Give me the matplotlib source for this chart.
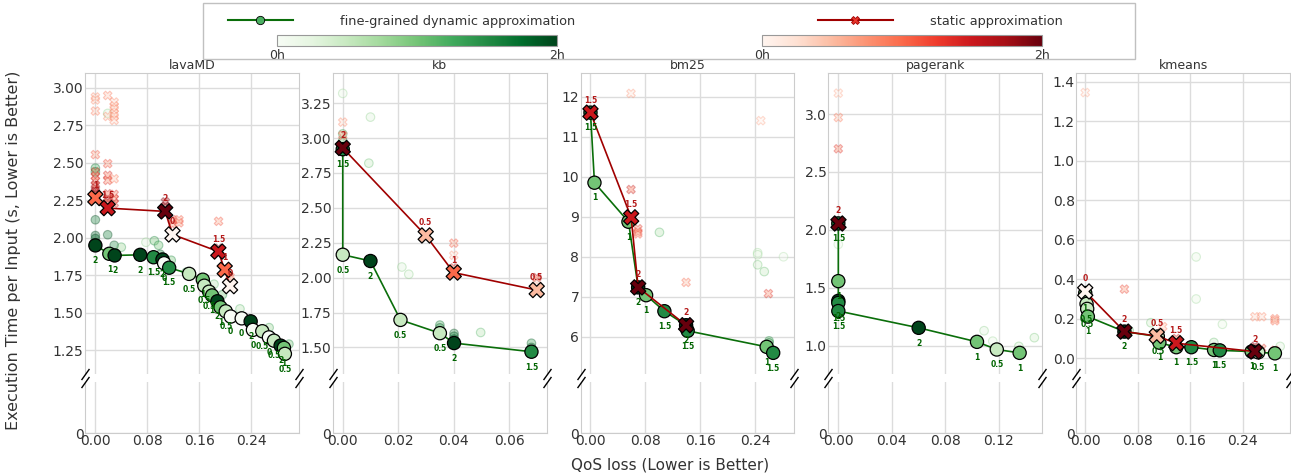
import matplotlib
matplotlib.use("Agg")
import matplotlib.pyplot as plt
import matplotlib.colors as mcolors
import matplotlib.cm as cm
from matplotlib.gridspec import GridSpec
from matplotlib.lines import Line2D
from matplotlib.patches import Rectangle
import numpy as np

plt.rcParams['font.family'] = ['DejaVu Sans']
plt.rcParams['text.color'] = '#333333'
plt.rcParams['xtick.color'] = '#333333'
plt.rcParams['ytick.color'] = '#333333'

benchmarks = ["lavaMD", "kb", "bm25", "pagerank", "kmeans"]

# (qos loss, time per input, hours of tuning)
lavamd_dyn = [(0.0, 1.949, 2), (0.0215, 1.893, 1), (0.0297, 1.882, 2), (0.0692, 1.886, 2),
              (0.0897, 1.870, 1.5), (0.1035, 1.855, 2), (0.106, 1.83, 0), (0.1138, 1.80, 1.5),
              (0.1446, 1.759, 0.5), (0.1657, 1.72, 1), (0.168, 1.68, 0.5), (0.1754, 1.64, 0.5),
              (0.180, 1.615, 1), (0.1882, 1.576, 2), (0.193, 1.536, 1), (0.2011, 1.509, 0.5),
              (0.2088, 1.474, 0), (0.2257, 1.462, 0), (0.2395, 1.442, 2), (0.243, 1.385, 0),
              (0.2574, 1.376, 0.5), (0.2677, 1.335, 0), (0.2754, 1.313, 0.5), (0.2857, 1.28, 2),
              (0.2908, 1.265, 1), (0.2923, 1.225, 0.5)]
lavamd_static = [(0.0, 2.265, 1), (0.019, 2.198, 1.5), (0.1077, 2.176, 2), (0.119, 2.022, 0),
                 (0.1897, 1.908, 1.5), (0.1995, 1.786, 1), (0.2077, 1.677, 0)]
lavamd_dyn_all = [(0, 2.465, 1.2), (0, 2.44, 1.2), (0, 2.12, 1.6), (0, 2.015, 1.8), (0, 1.995, 1.8),
                  (0.019, 2.83, 0.3), (0.019, 2.02, 1.6), (0.029, 1.95, 1.5), (0.04, 1.937, 0.8),
                  (0.078, 1.97, 0.3), (0.091, 1.98, 1.0), (0.0975, 1.95, 1.0), (0.1, 1.89, 1.5),
                  (0.117, 1.85, 1.0), (0.14, 1.77, 0.8), (0.183, 1.69, 0.6), (0.196, 1.62, 1.0),
                  (0.223, 1.525, 0.6), (0.268, 1.40, 0.8), (0.2985, 1.29, 1.0), (0.29, 1.24, 1.0)]
lavamd_static_all = [(0, 2.94, 0.3), (0, 2.92, 0.3), (0, 2.846, 0.4), (0, 2.555, 0.6), (0, 2.44, 0.8),
                     (0, 2.41, 0.8), (0, 2.383, 0.9), (0, 2.35, 1.2), (0, 2.33, 1.2), (0, 2.31, 1.5),
                     (0, 2.29, 1.5), (0.019, 2.95, 0.4), (0.019, 2.81, 0.3), (0.019, 2.495, 0.7),
                     (0.019, 2.417, 0.9), (0.019, 2.383, 0.8), (0.019, 2.294, 1.0), (0.019, 2.26, 1.2),
                     (0.019, 2.24, 1.3), (0.029, 2.906, 0.3), (0.029, 2.88, 0.3), (0.029, 2.86, 0.3),
                     (0.029, 2.83, 0.3), (0.029, 2.81, 0.3), (0.029, 2.784, 0.3), (0.029, 2.394, 0.4),
                     (0.029, 2.29, 0.8), (0.029, 2.26, 0.8), (0.029, 2.23, 0.9), (0.108, 2.24, 1.5),
                     (0.108, 2.21, 1.8), (0.119, 2.12, 0.8), (0.119, 2.09, 0.8), (0.129, 2.12, 0.6),
                     (0.129, 2.10, 0.6), (0.19, 2.11, 0.6), (0.19, 1.93, 1.6), (0.2077, 1.74, 0.6),
                     (0.2077, 1.72, 0.3)]

kb_dyn = [(0.0, 2.92, 1.5), (0.0, 2.164, 0.5), (0.00998, 2.119, 2), (0.0208, 1.697, 0.5),
          (0.035, 1.602, 0.5), (0.0401, 1.531, 2), (0.068, 1.469, 1.5)]
kb_static = [(0.0, 2.929, 2), (0.0299, 2.302, 0.5), (0.04, 2.036, 1), (0.0699, 1.911, 0.5)]
kb_dyn_all = [(0, 3.32, 0.2), (0, 3.03, 0.8), (0, 2.98, 1.0), (0.00998, 3.15, 0.3), (0.0094, 2.82, 0.5),
              (0.0213, 2.076, 0.3), (0.0238, 2.024, 0.3), (0.035, 1.66, 1.2), (0.035, 1.64, 1.4),
              (0.0497, 1.607, 0.6), (0.0401, 1.60, 1.4), (0.0401, 1.58, 1.6), (0.0401, 1.56, 1.8),
              (0.068, 1.53, 1.3), (0.068, 1.50, 1.6)]
kb_static_all = [(0, 3.114, 0.3), (0, 3.02, 0.6), (0.04, 2.247, 0.6), (0.04, 2.16, 0.2),
                 (0.04, 2.07, 1.0), (0.0699, 2.0, 1.2), (0.0699, 1.98, 0.2)]

bm25_dyn = [(0.0, 11.6, 1.5), (0.0058, 9.85, 1), (0.0553, 8.875, 1), (0.0694, 7.235, 2),
            (0.081, 7.04, 1), (0.1076, 6.64, 1.5), (0.1392, 6.29, 2), (0.1415, 6.15, 1.5),
            (0.2565, 5.75, 1), (0.266, 5.6, 1.5)]
bm25_static = [(0.0, 11.6, 1.5), (0.0592, 8.985, 1.5), (0.0694, 7.235, 2), (0.1392, 6.29, 2)]
bm25_dyn_all = [(0.1004, 8.61, 0.6), (0.2434, 8.10, 0.2), (0.2434, 8.05, 0.2), (0.2434, 7.8, 0.4),
                (0.253, 7.63, 0.5), (0.281, 8.0, 0.1), (0.26, 5.9, 1.0), (0.26, 5.85, 1.2)]
bm25_static_all = [(0.059, 12.08, 0.2), (0.059, 9.68, 1.0), (0.069, 8.70, 0.8), (0.069, 8.62, 0.7),
                   (0.069, 8.57, 0.6), (0.1392, 7.36, 0.5), (0.248, 11.4, 0.1), (0.259, 7.08, 0.8)]

pagerank_dyn = [(0.0, 2.056, 1.5), (0.0, 1.558, 1), (0.0, 1.388, 2), (0.0, 1.37, 1.5),
                (0.0, 1.30, 1.5), (0.0601, 1.155, 2), (0.1037, 1.034, 1), (0.1185, 0.968, 0.5),
                (0.1356, 0.939, 1)]
pagerank_static = [(0.0, 2.056, 2)]
pagerank_dyn_all = [(0, 1.875, 0.1), (0.109, 1.13, 0.3), (0.1155, 1.04, 0.2), (0.135, 0.995, 0.4),
                    (0.1466, 1.07, 0.4)]
pagerank_static_all = [(0, 3.18, 0.1), (0, 2.97, 0.4), (0, 2.70, 0.8)]

kmeans_dyn = [(0.0, 0.33, 1), (0.002, 0.275, 0.5), (0.003, 0.25, 0.5), (0.004, 0.211, 1),
              (0.0597, 0.135, 2), (0.1106, 0.11, 0.5), (0.113, 0.079, 1), (0.1387, 0.056, 1),
              (0.1617, 0.056, 1.5), (0.1963, 0.042, 1), (0.205, 0.04, 1.5), (0.2535, 0.034, 1),
              (0.2636, 0.03, 0.5), (0.289, 0.025, 1)]
kmeans_static = [(0.0, 0.338, 0), (0.0597, 0.135, 2), (0.109, 0.113, 0.5), (0.1387, 0.076, 1.5),
                 (0.2585, 0.034, 2)]
kmeans_dyn_all = [(0.169, 0.513, 0.2), (0.169, 0.30, 0.2), (0.209, 0.172, 0.2), (0.1, 0.18, 0.4),
                  (0.196, 0.08, 0.5), (0.067, 0.14, 0.6), (0.297, 0.06, 0.3)]
kmeans_static_all = [(0, 1.345, 0.1), (0.0597, 0.35, 0.7), (0.118, 0.16, 0.4), (0.1387, 0.10, 1.0),
                     (0.2585, 0.21, 0.3), (0.269, 0.21, 0.3), (0.289, 0.2, 0.5), (0.289, 0.19, 0.5),
                     (0.2585, 0.06, 1.5), (0.2585, 0.05, 1.2), (0.269, 0.05, 0.8), (0.289, 0.04, 0.8)]

dyn_sets = [lavamd_dyn, kb_dyn, bm25_dyn, pagerank_dyn, kmeans_dyn]
static_sets = [lavamd_static, kb_static, bm25_static, pagerank_static, kmeans_static]
dyn_all_sets = [lavamd_dyn_all, kb_dyn_all, bm25_dyn_all, pagerank_dyn_all, kmeans_dyn_all]
static_all_sets = [lavamd_static_all, kb_static_all, bm25_static_all, pagerank_static_all, kmeans_static_all]

xlims = [(-0.016, 0.314), (-0.0036, 0.0735), (-0.0145, 0.297), (-0.0075, 0.1525), (-0.014, 0.312)]
xticks = [[0, 0.08, 0.16, 0.24], [0, 0.02, 0.04, 0.06], [0, 0.08, 0.16, 0.24],
          [0, 0.04, 0.08, 0.12], [0, 0.08, 0.16, 0.24]]
ylims = [(1.09, 3.10), (1.309, 3.466), (5.07, 12.59), (0.756, 3.354), (-0.08, 1.444)]
yticks = [np.arange(1.25, 3.01, 0.25), np.arange(1.5, 3.26, 0.25), np.arange(6, 12.1, 1),
          np.arange(1.0, 3.01, 0.5), np.arange(0, 1.41, 0.2)]
yfmt = ["%.2f", "%.2f", "%d", "%.1f", "%.1f"]

norm = mcolors.Normalize(0, 2)
greens = plt.get_cmap('Greens')
reds = plt.get_cmap('Reds')
gline = '#0a6e0a'
rline = '#a00000'
grid_c = '#dcdcdc'
spine_c = '#cccccc'

fig = plt.figure(figsize=(12.91, 4.76), dpi=100)
gs = GridSpec(2, 5, figure=fig, left=85/1291, right=1290/1291, top=1-73/476, bottom=1-433/476,
              wspace=0.158, height_ratios=[301, 51], hspace=0.045)


def unpack(pts):
    a = np.array(pts, dtype=float)
    return a[:, 0], a[:, 1], a[:, 2]


def edge_of(cmap, t):
    return [cmap(min(1.0, v / 2 + 0.3)) for v in t]


for i, name in enumerate(benchmarks):
    ax = fig.add_subplot(gs[0, i])
    axl = fig.add_subplot(gs[1, i])

    # all explored configs, faded
    x, y, t = unpack(dyn_all_sets[i])
    ax.scatter(x, y, s=38, c=greens(norm(t)), edgecolors=edge_of(greens, t), linewidths=0.8,
               alpha=0.35, zorder=2)
    x, y, t = unpack(static_all_sets[i])
    ax.scatter(x, y, s=38, marker='X', c=reds(norm(t)), edgecolors=edge_of(reds, t), linewidths=0.8,
               alpha=0.35, zorder=2)

    # pareto fronts
    x, y, t = unpack(dyn_sets[i])
    ax.plot(x, y, color=gline, lw=1.2, zorder=3)
    ax.scatter(x, y, s=90, c=greens(norm(t)), edgecolors='black', linewidths=0.9, zorder=4)
    for xi, yi, ti in zip(x, y, t):
        ax.annotate("%g" % ti, (xi, yi), xytext=(0, -11), textcoords='offset points', ha='center',
                    va='center', fontsize=5.5, fontweight='bold', color='darkgreen', zorder=6)

    x, y, t = unpack(static_sets[i])
    ax.plot(x, y, color=rline, lw=1.2, zorder=5)
    ax.scatter(x, y, s=120, marker='X', c=reds(norm(t)), edgecolors='black', linewidths=0.9, zorder=5)
    for xi, yi, ti in zip(x, y, t):
        ax.annotate("%g" % ti, (xi, yi), xytext=(0, 9), textcoords='offset points', ha='center',
                    va='center', fontsize=5.5, fontweight='bold', color='#b51a1a', zorder=6)

    for a in (ax, axl):
        a.set_xlim(*xlims[i])
        a.set_xticks(xticks[i])
        a.grid(True, color=grid_c, lw=1)
        a.set_axisbelow(True)
        a.tick_params(length=0, pad=1, labelsize=10)
        for s in a.spines.values():
            s.set_color(spine_c)
    ax.set_ylim(*ylims[i])
    ax.set_yticks(yticks[i])
    ax.set_yticklabels([yfmt[i] % v for v in yticks[i]])
    ax.tick_params(labelbottom=False)
    ax.spines['bottom'].set_visible(False)
    axl.spines['top'].set_visible(False)
    axl.set_ylim(0, 1)
    axl.set_yticks([0])
    axl.set_yticklabels(['0'])
    axl.set_xticklabels(["%.2f" % v for v in xticks[i]])
    ax.set_title(name, fontsize=9, pad=3)

    # break marks
    kw = dict(marker=[(-1, -1.4), (1, 1.4)], markersize=8, linestyle='none', color='k', mec='k',
              mew=1, clip_on=False, zorder=10)
    ax.plot([0, 1], [0, 0], transform=ax.transAxes, **kw)
    axl.plot([0, 1], [1, 1], transform=axl.transAxes, **kw)

fig.text(14/1291, 1-250/476, "Execution Time per Input (s, Lower is Better)", rotation=90,
         ha='center', va='center', fontsize=11.5)
fig.text(670/1291, 1-465/476, "QoS loss (Lower is Better)", ha='center', va='center', fontsize=11)

# legend box with colorbars
fig.add_artist(Rectangle((203/1291, 1-59/476), (1135-203)/1291, 56/476, transform=fig.transFigure,
                         fill=False, edgecolor='#c0c0c0', lw=1))
g_handle = Line2D([], [], color=gline, lw=1.5, marker='o', markersize=6,
                  markerfacecolor=greens(0.6), markeredgecolor='black', markeredgewidth=0.6)
r_handle = Line2D([], [], color=rline, lw=1.5, marker='X', markersize=6,
                  markerfacecolor=reds(0.65), markeredgecolor=rline, markeredgewidth=0.6)
fig.legend([g_handle], ["fine-grained dynamic approximation"], loc='center left',
           bbox_to_anchor=(228/1291, 1-21/476), frameon=False, borderpad=0, borderaxespad=0,
           handlelength=5.0, handletextpad=3.7, fontsize=9.3)
fig.legend([r_handle], ["static approximation"], loc='center left',
           bbox_to_anchor=(818/1291, 1-21/476), frameon=False, borderpad=0, borderaxespad=0,
           handlelength=5.8, handletextpad=2.9, fontsize=9.3)

for left, cmap in ((277, greens), (762, reds)):
    cax = fig.add_axes([left/1291, 1-46/476, 280/1291, 11/476])
    cb = fig.colorbar(cm.ScalarMappable(norm=norm, cmap=cmap), cax=cax, orientation='horizontal',
                      ticks=[0, 2])
    cb.ax.set_xticklabels(['0h', '2h'])
    cb.ax.tick_params(length=0, pad=2, labelsize=9)
    cb.outline.set_edgecolor('#999999')

fig.savefig("out.png", dpi=100)
